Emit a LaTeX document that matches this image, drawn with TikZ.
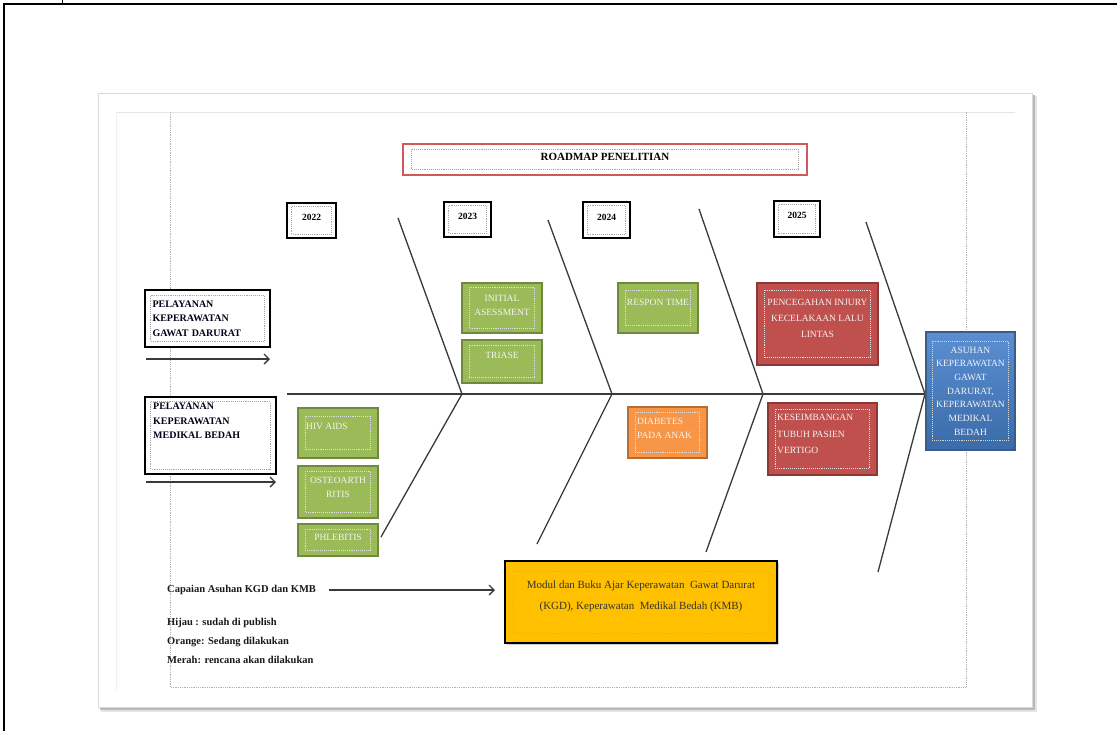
\documentclass[tikz,border=0pt]{standalone}
\usepackage{fontspec}
\setmainfont{Liberation Serif}
\usetikzlibrary{arrows.meta,shadows}
\definecolor{gfill}{HTML}{9BBB59}
\definecolor{gline}{HTML}{71893F}
\definecolor{ofill}{HTML}{F79646}
\definecolor{oline}{HTML}{B66D31}
\definecolor{rfill}{HTML}{C0504D}
\definecolor{rline}{HTML}{8C3836}
\definecolor{btop}{HTML}{5B8FD2}
\definecolor{bbot}{HTML}{3A6BA8}
\definecolor{bline}{HTML}{385D8A}
\definecolor{yfill}{HTML}{FFC000}
\definecolor{bonec}{HTML}{3A3A3A}
\definecolor{txtw}{HTML}{F4F4F4}
\definecolor{titred}{HTML}{D05A5A}
\newcommand\ibox[4]{\draw[densely dotted,line width=0.9pt,#4] ([shift={(#2,#3)}]#1.north west) rectangle ([shift={(-#2,-#3)}]#1.south east);}
\begin{document}
\begin{tikzpicture}[x=1pt,y=-1pt,
  frame/.style={draw=black,line width=2.5pt,rectangle,inner sep=0pt,fill=white},
  gbox/.style={draw=gline,fill=gfill,line width=1.3pt,rectangle,inner sep=0pt},
  obox/.style={draw=oline,fill=ofill,line width=1.3pt,rectangle,inner sep=0pt},
  rbox/.style={draw=rline,fill=rfill,line width=1.3pt,rectangle,inner sep=0pt},
  wtxt/.style={font=\fontsize{9.5}{14}\selectfont,text=txtw,inner sep=0pt},
  dtxt/.style={font=\bfseries\fontsize{10}{14.5}\selectfont,text=black!90!blue,inner sep=0pt},
  ltxt/.style={font=\bfseries\fontsize{10.5}{13}\selectfont,text=black!90,inner sep=0pt,anchor=west},
  ytxt/.style={font=\bfseries\fontsize{9.5}{11}\selectfont,inner sep=0pt},
  bonel/.style={draw=bonec,line width=1.3pt},
  arr/.style={draw=bonec,line width=1.3pt,-{Straight Barb[length=5pt,width=10pt]}}]
\useasboundingbox (0,0) rectangle (1117,731);
% outer frame of the document
\draw[black,line width=2pt] (4,731) -- (4,4) -- (1117,4);
\draw[black,line width=1pt] (62,0) -- (62,4);
% page with shadow
\fill[gray!20] (101,96) rectangle (1037,712);
\fill[gray!55] (100,95) rectangle (1035,710);
\fill[white] (98,93) rectangle (1032,707);
\draw[gray!30,line width=0.6pt] (98,93) rectangle (1032,707);
% margin guides
\draw[gray!20,line width=0.8pt] (116,112) -- (1015,112);
\draw[gray!12,line width=0.8pt] (116,112) -- (116,690);
\draw[gray!60,densely dotted,line width=0.8pt] (170,112) -- (170,687) -- (966,687) -- (966,112);
% title
\node[draw=titred,line width=1.2pt,rectangle,minimum width=404pt,minimum height=31pt,inner sep=0pt] (title) at (605,159.5) {};
\ibox{title}{9}{6}{gray!70}
\node[font=\bfseries\fontsize{11}{13}\selectfont,inner sep=0pt] (titlet) at (605,157) {ROADMAP PENELITIAN};
% years
\node[frame,minimum width=49pt,minimum height=35pt] (y22) at (311.5,220.5) {};
\node[frame,minimum width=47pt,minimum height=35pt] (y23) at (467.5,219.5) {};
\node[frame,minimum width=47pt,minimum height=36pt] (y24) at (606.5,220) {};
\node[frame,minimum width=46pt,minimum height=36pt] (y25) at (797,219) {};
\ibox{y22}{6}{5}{gray!70}
\ibox{y23}{6}{5}{gray!70}
\ibox{y24}{6}{5}{gray!70}
\ibox{y25}{6}{5}{gray!70}
\node[ytxt] (y22t) at (311.5,217) {2022};
\node[ytxt] (y23t) at (467.5,216) {2023};
\node[ytxt] (y24t) at (606.5,217) {2024};
\node[ytxt] (y25t) at (797,215) {2025};
% fishbone
\coordinate (s0) at (287,394);
\coordinate (j1) at (462,394);
\coordinate (j2) at (612,394);
\coordinate (j3) at (763,394);
\coordinate (hd) at (925,394);
\coordinate (t1) at (398,218);
\coordinate (t2) at (548,220);
\coordinate (t3) at (699,209);
\coordinate (t4) at (866,222);
\coordinate (b1) at (381,537);
\coordinate (b2) at (537,544);
\coordinate (b3) at (706,552);
\coordinate (b4) at (878,572);
\draw[bonel] (s0) -- (hd);
\draw[bonel] (t1) -- (j1) -- (b1);
\draw[bonel] (t2) -- (j2) -- (b2);
\draw[bonel] (t3) -- (j3) -- (b3);
\draw[bonel] (t4) -- (hd) -- (b4);
% left category boxes
\node[frame,minimum width=125pt,minimum height=57pt,text width=110pt,align=left,dtxt,inner xsep=7.5pt] (gd) at (207.5,318.5) {PELAYANAN\\KEPERAWATAN\\GAWAT DARURAT};
\ibox{gd}{7}{7}{gray!70}
\node[frame,minimum width=131pt,minimum height=77pt] (mb) at (210.5,435.5) {};
\ibox{mb}{7}{6}{gray!70}
\node[dtxt,anchor=north west,align=left] (mbt) at (153,403) {PELAYANAN\\KEPERAWATAN\\MEDIKAL BEDAH};
\coordinate (a1s) at (146,359);
\coordinate (a1e) at (270,359);
\coordinate (a2s) at (146,482);
\coordinate (a2e) at (276,482);
\draw[arr] (a1s) -- (a1e);
\draw[arr] (a2s) -- (a2e);
% green boxes
\node[gbox,minimum width=80pt,minimum height=50pt] (hiv) at (338,433) {};
\node[gbox,minimum width=80pt,minimum height=52pt] (ost) at (338,492) {};
\node[gbox,minimum width=80pt,minimum height=32pt] (phl) at (338,540) {};
\node[gbox,minimum width=80pt,minimum height=50pt] (ini) at (502,308) {};
\node[gbox,minimum width=80pt,minimum height=43pt] (tri) at (502,361.5) {};
\node[gbox,minimum width=80pt,minimum height=50pt] (res) at (658,308) {};
\ibox{hiv}{8}{9}{white!75!gray}
\ibox{ost}{8}{6}{white!75!gray}
\ibox{phl}{8}{6}{white!75!gray}
\ibox{ini}{8}{5}{white!75!gray}
\ibox{tri}{8}{6}{white!75!gray}
\ibox{res}{8}{8}{white!75!gray}
\node[wtxt,anchor=west] (hivt) at (306,426) {HIV AIDS};
\node[wtxt,align=center] (ostt) at (338,487) {OSTEOARTH\\RITIS};
\node[wtxt] (phlt) at (338,537) {PHLEBITIS};
\node[wtxt,align=center] (init) at (502,305) {INITIAL\\ASESSMENT};
\node[wtxt] (trit) at (502,355) {TRIASE};
\node[wtxt] (rest) at (658,302) {RESPON TIME};
% orange box
\node[obox,minimum width=79pt,minimum height=51pt] (dia) at (667.5,432.5) {};
\ibox{dia}{8}{6}{white!75!gray}
\node[wtxt,anchor=west,align=left] (diat) at (637,428.5) {DIABETES\\PADA ANAK};
% red boxes
\node[rbox,minimum width=121pt,minimum height=82pt] (pen) at (817.5,324) {};
\node[rbox,minimum width=109pt,minimum height=72pt] (kes) at (822.5,439) {};
\ibox{pen}{8}{8}{white!75!gray}
\ibox{kes}{8}{7}{white!75!gray}
\node[wtxt,align=center,font=\fontsize{9.5}{16}\selectfont] (pent) at (817.5,318) {PENCEGAHAN INJURY\\KECELAKAAN LALU\\LINTAS};
\node[wtxt,anchor=west,align=left,font=\fontsize{9.5}{16.5}\selectfont] (kest) at (777,434) {KESEIMBANGAN\\TUBUH PASIEN\\VERTIGO};
% blue result box
\node[draw=bline,line width=1.2pt,top color=btop,bottom color=bbot,rectangle,inner sep=0pt,minimum width=89pt,minimum height=118pt] (res2) at (970.5,391) {};
\ibox{res2}{7}{10}{white!65!gray}
\node[wtxt,align=center,font=\fontsize{9.5}{13.7}\selectfont] (res2t) at (970.5,391) {ASUHAN\\KEPERAWATAN\\GAWAT\\DARURAT,\\KEPERAWATAN\\MEDIKAL\\BEDAH};
% bottom part
\node[ltxt] (cap) at (167,590) {Capaian Asuhan KGD dan KMB};
\node[draw=black,line width=2pt,fill=yfill,rectangle,inner sep=0pt,minimum width=272pt,minimum height=82pt,drop shadow={shadow xshift=2pt,shadow yshift=-2pt,opacity=0.35}] (mod) at (641,602) {};
\ibox{mod}{9}{11}{gray!60}
\node[font=\fontsize{11}{21}\selectfont,text=black!80,align=center,inner sep=0pt] (modt) at (641,596) {Modul dan Buku Ajar Keperawatan~ Gawat Darurat\\(KGD), Keperawatan~ Medikal Bedah (KMB)};
\coordinate (a3s) at (329,590);
\coordinate (a3e) at (495,590);
\draw[arr] (a3s) -- (a3e);
\node[ltxt] (lg1) at (167,623) {Hijau : sudah di publish};
\node[ltxt] (lg2) at (167,642) {Orange: Sedang dilakukan};
\node[ltxt] (lg3) at (167,660) {Merah: rencana akan dilakukan};
\end{tikzpicture}
\end{document}
